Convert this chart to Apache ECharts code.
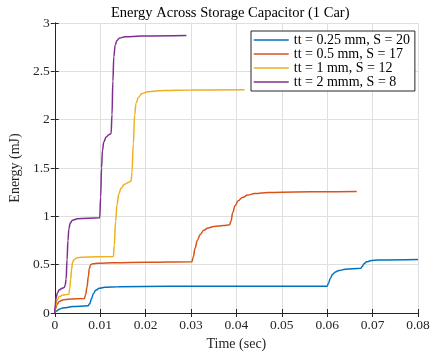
<!DOCTYPE html>
<html>
<head>
<meta charset="utf-8">
<script src="https://cdn.jsdelivr.net/npm/echarts@6/dist/echarts.min.js"></script>
<style>
  html, body { margin: 0; padding: 0; background: #fff; }
  #chart { width: 435px; height: 356px; }
</style>
</head>
<body>
<div id="chart"></div>
<script>
// (time in sec, energy in mJ)
const seriesNames = ['tt = 0.25 mm, S = 20', 'tt = 0.5 mm, S = 17', 'tt = 1 mm, S = 12', 'tt = 2 mmm, S = 8'];
const seriesColors = ['#0072BD', '#D95319', '#EDB120', '#7E2F8E'];

const tBlue = [0, 0.0004, 0.001, 0.002, 0.004, 0.0073, 0.0077, 0.0081, 0.0085, 0.009, 0.0098, 0.011, 0.014, 0.025, 0.045, 0.06,
  0.0603, 0.0607, 0.0612, 0.0618, 0.0626, 0.064, 0.0674, 0.0677, 0.0681, 0.0687, 0.0697, 0.0712, 0.08];
const eBlue = [0, 0.02, 0.04, 0.055, 0.066, 0.075, 0.095, 0.15, 0.2, 0.235, 0.255, 0.267, 0.272, 0.276, 0.277, 0.278,
  0.31, 0.36, 0.4, 0.425, 0.44, 0.452, 0.462, 0.48, 0.51, 0.53, 0.542, 0.548, 0.553];

const tOrange = [0, 0.0002, 0.0005, 0.001, 0.0018, 0.003, 0.0065, 0.0068, 0.0071, 0.0074, 0.0076, 0.0079, 0.0084, 0.0095, 0.013, 0.02, 0.0302,
  0.0305, 0.0309, 0.0314, 0.032, 0.0328, 0.0338, 0.035, 0.0372, 0.0385, 0.0388, 0.0392, 0.0397, 0.0404, 0.0413, 0.0425, 0.044, 0.047, 0.053, 0.06, 0.0665];
const eOrange = [0, 0.05, 0.09, 0.12, 0.135, 0.143, 0.15, 0.19, 0.27, 0.38, 0.46, 0.5, 0.51, 0.515, 0.52, 0.525, 0.53,
  0.58, 0.67, 0.75, 0.81, 0.855, 0.88, 0.895, 0.905, 0.912, 0.95, 1.04, 1.11, 1.16, 1.195, 1.22, 1.235, 1.246, 1.252, 1.255, 1.256];

const tYellow = [0, 0.0002, 0.0005, 0.001, 0.0018, 0.0031, 0.0033, 0.0035, 0.0037, 0.0039, 0.0042, 0.0048, 0.006, 0.0129,
  0.0131, 0.0134, 0.0137, 0.0141, 0.0146, 0.0153, 0.0162, 0.0168, 0.017, 0.0173, 0.0176, 0.0179, 0.0184, 0.0192, 0.0205, 0.024, 0.03, 0.0418];
const eYellow = [0, 0.07, 0.13, 0.17, 0.185, 0.195, 0.25, 0.35, 0.45, 0.52, 0.55, 0.57, 0.578, 0.585,
  0.7, 0.95, 1.12, 1.23, 1.29, 1.33, 1.35, 1.365, 1.45, 1.75, 2.05, 2.17, 2.23, 2.27, 2.29, 2.302, 2.307, 2.31];

const tPurple = [0, 0.0001, 0.0003, 0.0006, 0.001, 0.0016, 0.0021, 0.0023, 0.0025, 0.0027, 0.0029, 0.0031, 0.0034, 0.0039, 0.005, 0.0099,
  0.0101, 0.0103, 0.0105, 0.0108, 0.0113, 0.0119, 0.0124, 0.0126, 0.0128, 0.013, 0.0133, 0.0137, 0.0143, 0.0155, 0.019, 0.029];
const ePurple = [0, 0.09, 0.16, 0.21, 0.24, 0.255, 0.265, 0.29, 0.35, 0.55, 0.75, 0.87, 0.93, 0.96, 0.975, 0.985,
  1.2, 1.5, 1.68, 1.77, 1.82, 1.845, 1.855, 2.05, 2.4, 2.65, 2.77, 2.82, 2.845, 2.858, 2.865, 2.87];

const xTicks = [0, 0.01, 0.02, 0.03, 0.04, 0.05, 0.06, 0.07, 0.08];
const yTicks = [0, 0.5, 1, 1.5, 2, 2.5, 3];

const times = [tBlue, tOrange, tYellow, tPurple];
const energies = [eBlue, eOrange, eYellow, ePurple];

const font = '"Liberation Serif", "Times New Roman", serif';
const axisColor = '#262626';

function pairs(t, e) {
  return t.map((v, i) => [v, e[i]]);
}

const chart = echarts.init(document.getElementById('chart'), null, {renderer: 'canvas'});

function baseX(top) {
  return {
    type: 'value',
    position: top ? 'top' : 'bottom',
    min: xTicks[0],
    max: xTicks[xTicks.length - 1],
    interval: 0.01,
    name: top ? '' : 'Time (sec)',
    nameLocation: 'middle',
    nameGap: 24,
    nameTextStyle: {fontFamily: font, fontSize: 14, color: axisColor},
    axisLine: {show: true, lineStyle: {color: axisColor, width: 1}},
    axisTick: {show: true, inside: true, length: 4, lineStyle: {color: axisColor}},
    axisLabel: {show: !top, fontFamily: font, fontSize: 13.5, color: axisColor, margin: 5},
    splitLine: {show: !top, lineStyle: {color: '#dfdfdf', width: 1}}
  };
}

function baseY(right) {
  return {
    type: 'value',
    position: right ? 'right' : 'left',
    min: yTicks[0],
    max: yTicks[yTicks.length - 1],
    interval: 0.5,
    name: right ? '' : 'Energy (mJ)',
    nameLocation: 'middle',
    nameGap: 27,
    nameTextStyle: {fontFamily: font, fontSize: 14, color: axisColor},
    axisLine: {show: true, lineStyle: {color: axisColor, width: 1}},
    axisTick: {show: true, inside: true, length: 4, lineStyle: {color: axisColor}},
    axisLabel: {show: !right, fontFamily: font, fontSize: 13.5, color: axisColor, margin: 5},
    splitLine: {show: !right, lineStyle: {color: '#dfdfdf', width: 1}}
  };
}

chart.setOption({
  animation: false,
  backgroundColor: '#fff',
  title: {
    text: 'Energy Across Storage Capacitor (1 Car)',
    left: 106,
    top: 1,
    textStyle: {fontFamily: font, fontSize: 14.5, fontWeight: 'normal', color: '#000'}
  },
  grid: {left: 44, right: 17, top: 23, bottom: 40},
  legend: {
    orient: 'vertical',
    left: 251,
    top: 31,
    padding: [2, 5, 2, 2],
    itemGap: 0,
    itemWidth: 35,
    itemHeight: 10,
    backgroundColor: '#fff',
    borderColor: '#262626',
    borderWidth: 1,
    itemStyle: {opacity: 0},
    lineStyle: {width: 1.5},
    textStyle: {fontFamily: font, fontSize: 14, color: '#000', lineHeight: 13.4},
    data: seriesNames
  },
  xAxis: [baseX(false), baseX(true)],
  yAxis: [baseY(false), baseY(true)],
  series: seriesNames.map((name, i) => ({
    name: name,
    type: 'line',
    symbol: 'none',
    smooth: 0.4,
    smoothMonotone: 'x',
    color: seriesColors[i],
    lineStyle: {width: 1.5, color: seriesColors[i]},
    data: pairs(times[i], energies[i])
  }))
});
</script>
</body>
</html>
